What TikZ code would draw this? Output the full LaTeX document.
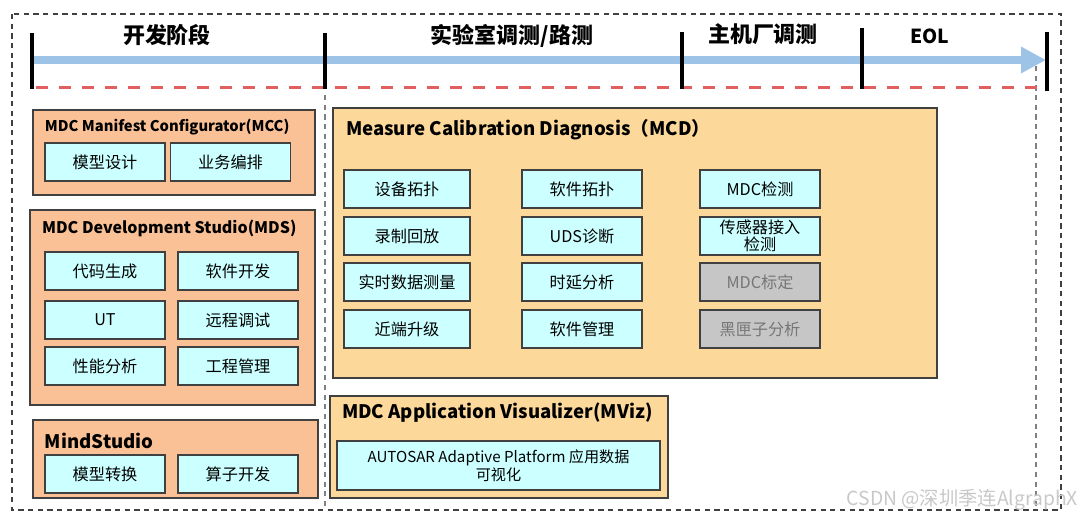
\documentclass[tikz,border=0pt]{standalone}
\usepackage{fontspec}
\setmainfont{Noto Sans CJK SC}
\usetikzlibrary{arrows.meta}
\definecolor{orangegrp}{RGB}{250,193,150}
\definecolor{orangepale}{RGB}{253,216,155}
\definecolor{cyanpale}{RGB}{204,255,255}
\definecolor{grisbox}{RGB}{198,198,198}
\definecolor{gristxt}{RGB}{118,118,118}
\definecolor{bordure}{RGB}{64,64,64}
\definecolor{bleuline}{RGB}{157,195,230}
\definecolor{rougedash}{RGB}{224,96,96}
\definecolor{marque}{RGB}{200,200,200}

\begin{document}
\begin{tikzpicture}[x=0.02cm, y=-0.02cm, every node/.style={inner sep=0pt, outer sep=0pt}]
  \tikzstyle{grp}=[rectangle, draw=bordure, line width=1pt, fill=orangegrp]
  \tikzstyle{grpmcd}=[grp, fill=orangepale]
  \tikzstyle{item}=[rectangle, draw=bordure, line width=1pt, fill=cyanpale, minimum width=2.4cm, minimum height=0.76cm, font=\fontsize{9.2}{9.5}\selectfont, align=center]
  \tikzstyle{itemoff}=[item, fill=grisbox, text=gristxt]
  \tikzstyle{titre}=[anchor=west, font=\bfseries\fontsize{9.1}{11}\selectfont]
  \tikzstyle{titregrand}=[titre, font=\bfseries\fontsize{10.6}{12}\selectfont]
  \tikzstyle{phase}=[font=\bfseries\fontsize{12.5}{14}\selectfont]
  \tikzstyle{tick}=[line width=2.2pt]
  \tikzstyle{cadre}=[draw=black!75, line width=0.8pt, dash pattern=on 3pt off 2.5pt]

  \useasboundingbox (0,0) rectangle (1080,519);

  % cadres pointilles
  \draw[cadre] (12,14) rectangle (1061,510);
  \draw[cadre, draw=black!50] (325,95) -- (325,510);
  \draw[cadre, draw=black!50] (1036,66) -- (1036,510);

  % frise des phases
  \coordinate (debut) at (32,60);
  \coordinate (fin) at (1046,60);
  \draw[bleuline, line width=4.5pt, -{Triangle[length=0.5cm, width=0.5cm]}] (debut) -- (fin);
  \draw[rougedash, line width=1.7pt, dash pattern=on 0.24cm off 0.22cm] (36,88) -- (1045,88);
  \draw[tick] (32,33) -- (32,89);
  \draw[tick] (325,33) -- (325,89);
  \draw[tick] (682,32) -- (682,89);
  \draw[tick] (862,28) -- (862,89);
  \draw[tick] (1047,32) -- (1047,91);

	\node[phase] (devt) at (167,35) {开发阶段};
	\node[phase] (labo) at (512,36) {实验室调测/路测};
	\node[phase] (oem)  at (763,34) {主机厂调测};
	\node[phase, font=\bfseries\fontsize{11}{12}\selectfont] (eol) at (930,36) {EOL};

  % MCC
	\node[grp, minimum width=5.64cm, minimum height=1.7cm] (MCC) at (174,152.5) {};
	\node[titre, font=\bfseries\fontsize{8.4}{10}\selectfont] (MCCt) at (45,127) {MDC Manifest Configurator(MCC)};
	\node[item] (mcc1) at (105,162) {模型设计};
	\node[item] (mcc2) at (230.5,162) {业务编排};

  % MDS
	\node[grp, minimum width=5.7cm, minimum height=3.9cm] (MDS) at (172.5,307.5) {};
	\node[titre] (MDSt) at (42,228) {MDC Development Studio(MDS)};
	\node[item] (mds1) at (105,271) {代码生成};
	\node[item] (mds2) at (238,271) {软件开发};
	\node[item] (mds3) at (105,320) {UT};
	\node[item] (mds4) at (238,320) {远程调试};
	\node[item] (mds5) at (105,366) {性能分析};
	\node[item] (mds6) at (238,366) {工程管理};

  % MindStudio
	\node[grp, minimum width=5.7cm, minimum height=1.56cm] (MS) at (175.5,459) {};
	\node[titregrand] (MSt) at (45,441) {MindStudio};
	\node[item] (ms1) at (105,474) {模型转换};
	\node[item] (ms2) at (238,474) {算子开发};

  % MCD
	\node[grpmcd, minimum width=12.08cm, minimum height=5.4cm] (MCD) at (635,243) {};
	\node[titregrand] (MCDt) at (346,130) {Measure Calibration Diagnosis（MCD）};
	\node[item, minimum width=2.52cm] (mcd1) at (407,189) {设备拓扑};
	\node[item, minimum width=2.52cm] (mcd2) at (407,236) {录制回放};
	\node[item, minimum width=2.52cm] (mcd3) at (407,282) {实时数据测量};
	\node[item, minimum width=2.52cm] (mcd4) at (407,329) {近端升级};
	\node[item] (mcd5) at (582,189) {软件拓扑};
	\node[item] (mcd6) at (582,236) {UDS诊断};
	\node[item] (mcd7) at (582,282) {时延分析};
	\node[item] (mcd8) at (582,329) {软件管理};
	\node[item] (mcd9) at (760,189) {MDC检测};
	\node[item] (mcd10) at (760,236) {传感器接入\\检测};
	\node[itemoff] (mcd11) at (760,282) {MDC标定};
	\node[itemoff] (mcd12) at (760,329) {黑匣子分析};

  % MViz
	\node[grpmcd, minimum width=6.76cm, minimum height=2.04cm] (MViz) at (499,447) {};
	\node[titregrand] (MVizt) at (342,413) {MDC Application Visualizer(MViz)};
	\node[item, minimum width=6.46cm, minimum height=0.98cm, font=\fontsize{8.6}{10}\selectfont] (mviz1) at (498.5,465.5) {AUTOSAR Adaptive Platform 应用数据\\可视化};

	\node[anchor=east, text=marque, font=\fontsize{11}{12}\selectfont] (wm) at (1078,500) {CSDN @深圳季连AlgraphX};

\end{tikzpicture}
\end{document}
